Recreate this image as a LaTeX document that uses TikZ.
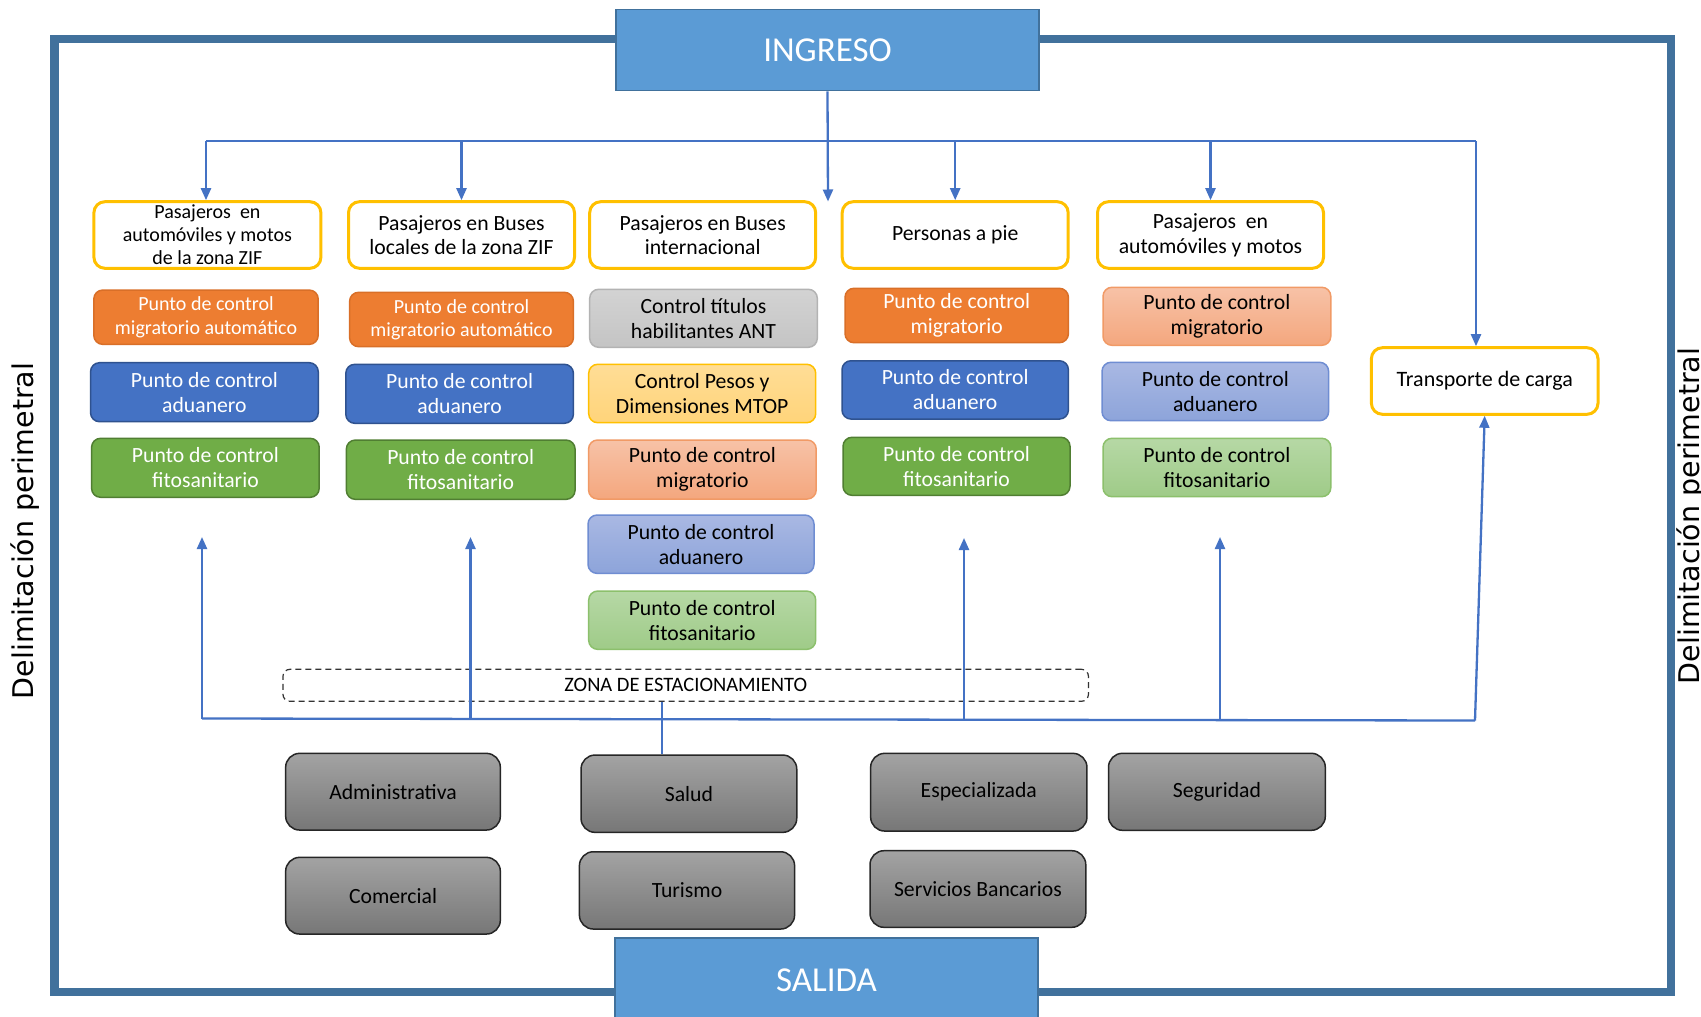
\documentclass[tikz,border=0pt]{standalone}
\usepackage{fontspec}
\setmainfont{Carlito}
\newfontfamily\dejavu{DejaVu Sans}
\usetikzlibrary{arrows.meta}
\definecolor{frameblue}{HTML}{41719C}
\definecolor{boxblue}{HTML}{5B9BD5}
\definecolor{lineblue}{HTML}{4472C4}
\definecolor{gold}{HTML}{FFC000}
\definecolor{orng}{HTML}{ED7D31}
\definecolor{orngdk}{HTML}{D96F28}
\definecolor{blu}{HTML}{4472C4}
\definecolor{bludk}{HTML}{2F528F}
\definecolor{grn}{HTML}{70AD47}
\definecolor{grndk}{HTML}{507E32}
\definecolor{lgtop}{HTML}{D3D3D3}
\definecolor{lgbot}{HTML}{C4C4C4}
\definecolor{lgdr}{HTML}{B3B3B3}
\definecolor{lytop}{HTML}{FFDD96}
\definecolor{lybot}{HTML}{FFD47A}
\definecolor{lydr}{HTML}{FFC000}
\definecolor{smtop}{HTML}{F7C2A7}
\definecolor{smbot}{HTML}{F4A77E}
\definecolor{smdr}{HTML}{F19A66}
\definecolor{lbtop}{HTML}{A9B8E3}
\definecolor{lbbot}{HTML}{8DA4DA}
\definecolor{lbdr}{HTML}{6F8DD2}
\definecolor{lntop}{HTML}{B6D8A5}
\definecolor{lnbot}{HTML}{9FCB88}
\definecolor{lndr}{HTML}{8CC06C}
\definecolor{gtop}{HTML}{A3A3A3}
\definecolor{gbot}{HTML}{777777}
\definecolor{gdr}{HTML}{262626}
\newcommand\fsz[2]{\fontsize{#1}{#2}\selectfont}
\tikzset{
  hdr/.style={draw=gold, line width=3pt, fill=white, rounded corners=11pt, align=center, inner sep=1pt, minimum width=226pt, minimum height=66.6pt, font=\fsz{21.7}{24.7}},
  ctl/.style={rounded corners=9pt, line width=1.5pt, align=center, inner sep=1pt, font=\fsz{21.7}{25}},
  orngbox/.style={ctl, fill=orng, draw=orngdk, text=white},
  blubox/.style={ctl, fill=blu, draw=bludk, text=white},
  grnbox/.style={ctl, fill=grn, draw=grndk, text=white},
  lgbox/.style={ctl, top color=lgtop, bottom color=lgbot, draw=lgdr},
  lybox/.style={ctl, top color=lytop, bottom color=lybot, draw=lydr},
  smbox/.style={ctl, top color=smtop, bottom color=smbot, draw=smdr},
  lbbox/.style={ctl, top color=lbtop, bottom color=lbbot, draw=lbdr},
  lnbox/.style={ctl, top color=lntop, bottom color=lnbot, draw=lndr},
  gbox/.style={rounded corners=14pt, line width=1.5pt, draw=gdr, top color=gtop, bottom color=gbot, font=\fsz{21.7}{25}, minimum width=215pt, minimum height=77pt},
  mainbox/.style={fill=boxblue, draw=frameblue, line width=1.5pt, text=white, font=\fsz{35}{40}, minimum width=423pt},
  conn/.style={draw=lineblue, line width=2.3pt},
  arr/.style={-{Triangle[length=12pt,width=10pt]}},
  sidetext/.style={rotate=90, anchor=base, inner sep=0pt, font=\dejavu\fsz{28.5}{32}}
}
\begin{document}
\begin{tikzpicture}[x=1pt,y=-1pt]
\useasboundingbox (0,0) rectangle (1701,1017);
\clip (0,0) rectangle (1701,1017);
\fill[white] (0,0) rectangle (1701,1017);

% perimeter frame
\draw[frameblue, line width=8.5pt] (54.7,39) rectangle (1671,992);

% side labels
\node[sidetext] (dl) at (33.3,531) {Delimitación perimetral};
\node[sidetext] (dr) at (1699,516) {Delimitación perimetral};

% entry / exit
\node[mainbox, minimum height=81.4pt] (ingreso) at (827.5,50) {INGRESO};
\node[mainbox, minimum height=84pt] (salida) at (826.5,980) {SALIDA};

% header boxes
\node[hdr, minimum width=227pt, font=\fsz{20}{23}] (h1) at (207.4,235) {Pasajeros\ \ en\\automóviles y motos\\de la zona ZIF};
\node[hdr] (h2) at (461.5,235) {Pasajeros en Buses\\locales de la zona ZIF};
\node[hdr] (h3) at (702.7,235) {Pasajeros en Buses\\internacional};
\node[hdr] (h4) at (955.2,235) {Personas a pie};
\node[hdr] (h5) at (1210.5,235) {Pasajeros\ \ en\\automóviles y motos};
\node[hdr, minimum width=226.6pt, font=\fsz{22}{25}] (transp) at (1484.7,381) {Transporte de carga};

% row 1
\node[orngbox, minimum width=224.4pt, minimum height=54.3pt, font=\fsz{20}{23.3}] (r1c1) at (206,317.2) {Punto de control\\migratorio automático};
\node[orngbox, minimum width=223.8pt, minimum height=54.4pt, font=\fsz{20}{23.3}] (r1c2) at (461.5,319.5) {Punto de control\\migratorio automático};
\node[lgbox, minimum width=227.6pt, minimum height=58pt] (r1c3) at (703.5,318.3) {Control títulos\\habilitantes ANT};
\node[orngbox, minimum width=223.4pt, minimum height=54.4pt] (r1c4) at (956.7,315.5) {Punto de control\\migratorio};
\node[smbox, minimum width=227.8pt, minimum height=58pt] (r1c5) at (1216.9,316.3) {Punto de control\\migratorio};

% row 2
\node[blubox, minimum width=227.7pt, minimum height=59pt] (r2c1) at (204.4,392.2) {Punto de control\\aduanero};
\node[blubox, minimum width=227.6pt, minimum height=59pt] (r2c2) at (459.6,393.8) {Punto de control\\aduanero};
\node[lybox, minimum width=227pt, minimum height=58.4pt] (r2c3) at (702.2,393.5) {Control Pesos y\\Dimensiones MTOP};
\node[blubox, minimum width=226.4pt, minimum height=58.3pt] (r2c4) at (955.2,389.9) {Punto de control\\aduanero};
\node[lbbox, minimum width=226.6pt, minimum height=58.4pt] (r2c5) at (1215.3,391.5) {Punto de control\\aduanero};

% row 3
\node[grnbox, minimum width=227.6pt, minimum height=59pt] (r3c1) at (205.4,467.8) {Punto de control\\fitosanitario};
\node[grnbox, minimum width=228.7pt, minimum height=59.3pt] (r3c2) at (460.7,469.7) {Punto de control\\fitosanitario};
\node[smbox, minimum width=227.6pt, minimum height=59pt] (r3c3) at (702.4,469.5) {Punto de control\\migratorio};
\node[grnbox, minimum width=227pt, minimum height=58pt] (r3c4) at (956.5,466.3) {Punto de control\\fitosanitario};
\node[lnbox, minimum width=227.8pt, minimum height=58.4pt] (r3c5) at (1216.9,467.5) {Punto de control\\fitosanitario};

% column 3 extra rows
\node[lbbox, minimum width=226pt, minimum height=58.3pt] (r4c3) at (701,544.2) {Punto de control\\aduanero};
\node[lnbox, minimum width=227pt, minimum height=58.3pt] (r5c3) at (702.2,620.2) {Punto de control\\fitosanitario};

% parking zone
\node[draw=black!80, dash pattern=on 6pt off 4pt, line width=1.2pt, rounded corners=7pt, minimum width=805.5pt, minimum height=32pt, inner sep=0pt, font=\fsz{20.5}{24}] (zona) at (685.7,685.3) {ZONA DE ESTACIONAMIENTO};

% service boxes
\node[gbox, minimum width=214.7pt, minimum height=76.7pt] (admin) at (393,791.7) {Administrativa};
\node[gbox, minimum width=215.7pt, minimum height=77.3pt] (salud) at (688.9,793.7) {Salud};
\node[gbox, minimum width=216.3pt, minimum height=77.7pt] (espec) at (978.8,792.2) {Especializada};
\node[gbox, minimum width=216.8pt, minimum height=77pt] (segur) at (1216.9,791.8) {Seguridad};
\node[gbox, minimum width=214.7pt, minimum height=76.7pt] (comerc) at (393,895.7) {Comercial};
\node[gbox, minimum width=215.2pt, minimum height=77.3pt] (turismo) at (687,890.4) {Turismo};
\node[gbox, minimum width=215.8pt, minimum height=76.6pt] (banc) at (977.9,889) {Servicios Bancarios};

% connector coordinates
\coordinate (tl) at (206,141);
\coordinate (tr) at (1476,141);
\coordinate (itip) at (828,201.5);
\coordinate (bl) at (202,718.5);
\coordinate (br) at (1475,720.5);
\coordinate (u1) at (202,537);
\coordinate (u2) at (470.5,537);
\coordinate (u4) at (964,538);
\coordinate (u5) at (1220,537);
\coordinate (sx) at (662,0);

% entry distribution
\draw[conn] (tl) -- (tr);
\draw[conn,arr] (ingreso.south) -- (itip);
\draw[conn,arr] (tl) -- (tl |- h1.north);
\draw[conn,arr] (h2.north |- tl) -- (h2.north);
\draw[conn,arr] (h4.north |- tl) -- (h4.north);
\draw[conn,arr] (h5.north |- tl) -- (h5.north);
\draw[conn,arr] (tr) -- (tr |- transp.north);

% exit collection
\draw[conn] (bl) -- (br);
\draw[conn,arr] (bl) -- (u1);
\draw[conn,arr] (u2 |- bl) -- (u2);
\draw[conn,arr] (u4 |- br) -- (u4);
\draw[conn,arr] (u5 |- br) -- (u5);
\draw[conn,arr] (br) -- (transp.south);
\draw[conn] (sx |- zona.south) -- (sx |- salud.north);
\end{tikzpicture}
\end{document}
